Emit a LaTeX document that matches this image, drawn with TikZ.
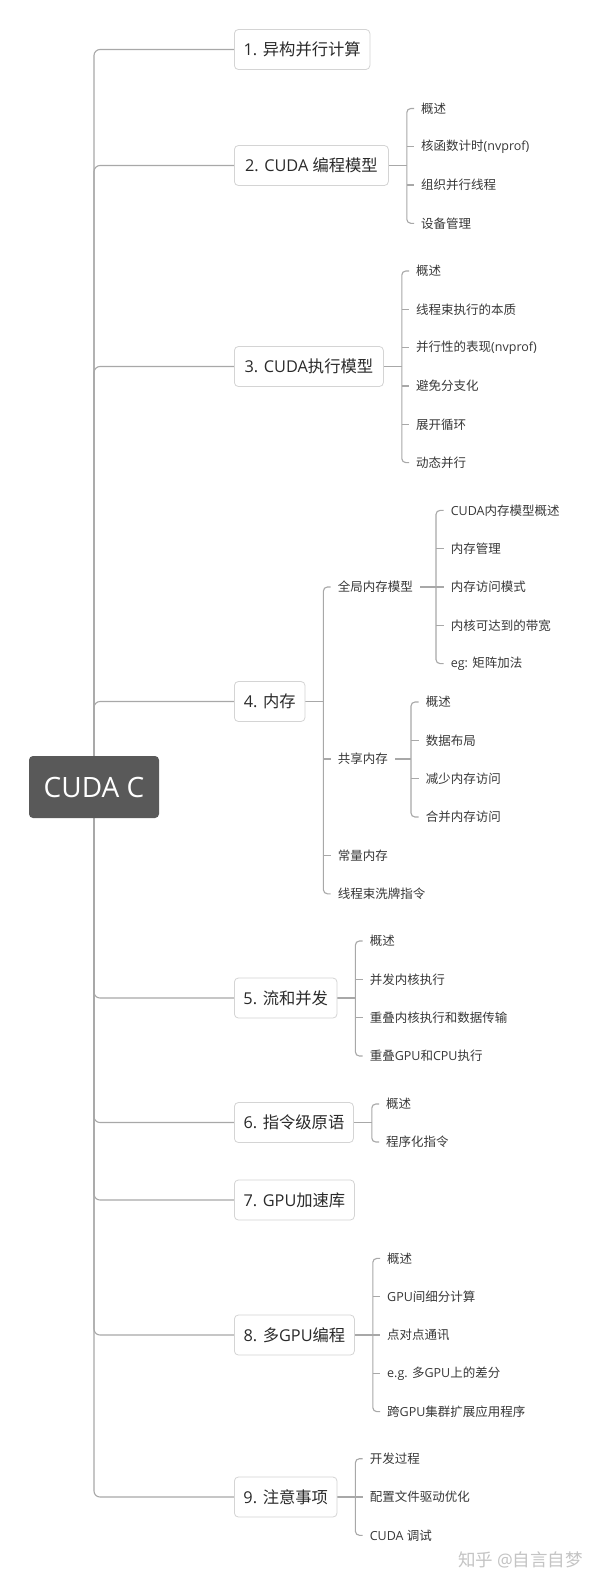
\documentclass[tikz,border=0pt]{standalone}
\usepackage{fontspec}
\setmainfont{Noto Sans CJK SC}
\newfontfamily\lat{Open Sans}
\usetikzlibrary{calc,backgrounds}
\definecolor{linec}{HTML}{A8A8A8}
\definecolor{boxline}{HTML}{D4D4D4}
\definecolor{txt}{HTML}{2A2A2A}
\definecolor{subtxt}{HTML}{383838}
\definecolor{rootfill}{HTML}{595959}
\definecolor{wm}{HTML}{C4C4C4}
\newcommand{\lt}[1]{{\lat #1}}
\begin{document}
\begin{tikzpicture}[x=1pt,y=-1pt,
 topbox/.style={draw=boxline, line width=0.8pt, fill=white, rounded corners=4pt, minimum height=40pt, inner xsep=0pt, anchor=west, text=txt, font=\fontsize{16.3}{18}\selectfont},
 leaf/.style={anchor=west, inner xsep=7pt, inner ysep=2pt, text=subtxt, font=\fontsize{12.5}{14}\selectfont},
 conn/.style={draw=linec, line width=1.1pt, rounded corners=4pt},
 stem/.style={draw=linec, line width=1.6pt},
 spine/.style={draw=linec, line width=1.1pt, rounded corners=6pt},
]
\useasboundingbox (0,0) rectangle (600,1583);

% root
\node[fill=rootfill, rounded corners=4pt, minimum width=130pt, minimum height=62pt, inner sep=0pt, text=white, font=\fontsize{28}{32}\selectfont\lat] (root) at (94,787) {CUDA C};

% top-level boxes
\node[topbox, minimum width=135.5pt] (b1) at (234,49.5) {\lt{1. }异构并行计算};
\node[topbox, minimum width=154pt] (b2) at (234,165.5) {\lt{2. CUDA }编程模型};
\node[topbox, minimum width=149pt] (b3) at (234,366.5) {\lt{3. CUDA}执行模型};
\node[topbox, minimum width=70.6pt] (b4) at (234,701.5) {\lt{4. }内存};
\node[topbox, minimum width=102.6pt] (b5) at (234,998) {\lt{5. }流和并发};
\node[topbox, minimum width=119pt] (b6) at (234,1122.5) {\lt{6. }指令级原语};
\node[topbox, minimum width=120pt] (b7) at (234,1200) {\lt{7. GPU}加速库};
\node[topbox, minimum width=120pt] (b8) at (234,1335) {\lt{8. }多\lt{GPU}编程};
\node[topbox, minimum width=102.6pt] (b9) at (234,1497) {\lt{9. }注意事项};

% group 2
\node[leaf] (c2a) at (414,108.5) {概述};
\node[leaf] (c2b) at (414,146.8) {核函数计时\lt{(nvprof)}};
\node[leaf] (c2c) at (414,185) {组织并行线程};
\node[leaf] (c2d) at (414,223.3) {设备管理};
% group 3
\node[leaf] (c3a) at (409,271) {概述};
\node[leaf] (c3b) at (409,309.3) {线程束执行的本质};
\node[leaf] (c3c) at (409,347.6) {并行性的表现\lt{(nvprof)}};
\node[leaf] (c3d) at (409,386) {避免分支化};
\node[leaf] (c3e) at (409,424.3) {展开循环};
\node[leaf] (c3f) at (409,462.6) {动态并行};
% group 4
\node[leaf] (c4a) at (330.6,587) {全局内存模型};
\node[leaf] (c4b) at (330.6,759) {共享内存};
\node[leaf] (c4c) at (330.6,855.5) {常量内存};
\node[leaf] (c4d) at (330.6,893.8) {线程束洗牌指令};
% global memory
\node[leaf] (g1) at (443.6,510.4) {\lt{CUDA}内存模型概述};
\node[leaf] (g2) at (443.6,548.7) {内存管理};
\node[leaf] (g3) at (443.6,587) {内存访问模式};
\node[leaf] (g4) at (443.6,625.3) {内核可达到的带宽};
\node[leaf] (g5) at (443.6,663.6) {\lt{eg: }矩阵加法};
% shared memory
\node[leaf] (s1) at (418.6,702) {概述};
\node[leaf] (s2) at (418.6,740.3) {数据布局};
\node[leaf] (s3) at (418.6,778.6) {减少内存访问};
\node[leaf] (s4) at (418.6,817) {合并内存访问};
% group 5
\node[leaf] (c5a) at (362.6,941) {概述};
\node[leaf] (c5b) at (362.6,979.3) {并发内核执行};
\node[leaf] (c5c) at (362.6,1017.6) {重叠内核执行和数据传输};
\node[leaf] (c5d) at (362.6,1056) {重叠\lt{GPU}和\lt{CPU}执行};
% group 6
\node[leaf] (c6a) at (379,1104) {概述};
\node[leaf] (c6b) at (379,1142) {程序化指令};
% group 8
\node[leaf] (c8a) at (380,1258.4) {概述};
\node[leaf] (c8b) at (380,1296.7) {\lt{GPU}间细分计算};
\node[leaf] (c8c) at (380,1335) {点对点通讯};
\node[leaf] (c8d) at (380,1373.3) {\lt{e.g. }多\lt{GPU}上的差分};
\node[leaf] (c8e) at (380,1411.6) {跨\lt{GPU}集群扩展应用程序};
% group 9
\node[leaf] (c9a) at (362.6,1458.7) {开发过程};
\node[leaf] (c9b) at (362.6,1497) {配置文件驱动优化};
\node[leaf] (c9c) at (362.6,1535.3) {\lt{CUDA }调试};

% watermark
\node[anchor=west, inner sep=0pt, text=wm, font=\fontsize{17.5}{20}\selectfont] (wm) at (458,1560) {知乎 \lt{@}自言自梦};

\begin{scope}[on background layer]
\fill[white] (0,0) rectangle (600,1583);
% spine
\draw[spine] (b1.west) -| (root.center) |- (b9.west);
\foreach \b in {b2,b3,b4,b5,b6,b7,b8}{\draw[spine] (root.center) |- (\b.west);}
% group 2
\draw[stem] (b2.east) -- ++(18,0) coordinate (k2);
\draw[conn] (c2a.west) -| (k2) |- (c2d.west);
\foreach \c in {c2b,c2c}{\draw[conn] (\c.west -| k2) -- (\c.west);}
% group 3
\draw[stem] (b3.east) -- ++(18,0) coordinate (k3);
\draw[conn] (c3a.west) -| (k3) |- (c3f.west);
\foreach \c in {c3b,c3c,c3d,c3e}{\draw[conn] (\c.west -| k3) -- (\c.west);}
% group 4
\draw[stem] (b4.east) -- ++(18,0) coordinate (k4);
\draw[conn] (c4a.west) -| (k4) |- (c4d.west);
\foreach \c in {c4b,c4c}{\draw[conn] (\c.west -| k4) -- (\c.west);}
% global
\draw[conn] (c4a.east) -- ++(16,0) coordinate (kg);
\draw[conn] (g1.west) -| (kg) |- (g5.west);
\foreach \c in {g2,g3,g4}{\draw[conn] (\c.west -| kg) -- (\c.west);}
% shared
\draw[conn] (c4b.east) -- ++(16,0) coordinate (ks);
\draw[conn] (s1.west) -| (ks) |- (s4.west);
\foreach \c in {s2,s3}{\draw[conn] (\c.west -| ks) -- (\c.west);}
% group 5
\draw[stem] (b5.east) -- ++(18,0) coordinate (k5);
\draw[conn] (c5a.west) -| (k5) |- (c5d.west);
\foreach \c in {c5b,c5c}{\draw[conn] (\c.west -| k5) -- (\c.west);}
% group 6
\draw[stem] (b6.east) -- ++(18,0) coordinate (k6);
\draw[conn] (c6a.west) -| (k6) |- (c6b.west);
% group 8
\draw[stem] (b8.east) -- ++(18,0) coordinate (k8);
\draw[conn] (c8a.west) -| (k8) |- (c8e.west);
\foreach \c in {c8b,c8c,c8d}{\draw[conn] (\c.west -| k8) -- (\c.west);}
% group 9
\draw[stem] (b9.east) -- ++(18,0) coordinate (k9);
\draw[conn] (c9a.west) -| (k9) |- (c9c.west);
\draw[conn] (c9b.west -| k9) -- (c9b.west);
\end{scope}
\end{tikzpicture}
\end{document}
